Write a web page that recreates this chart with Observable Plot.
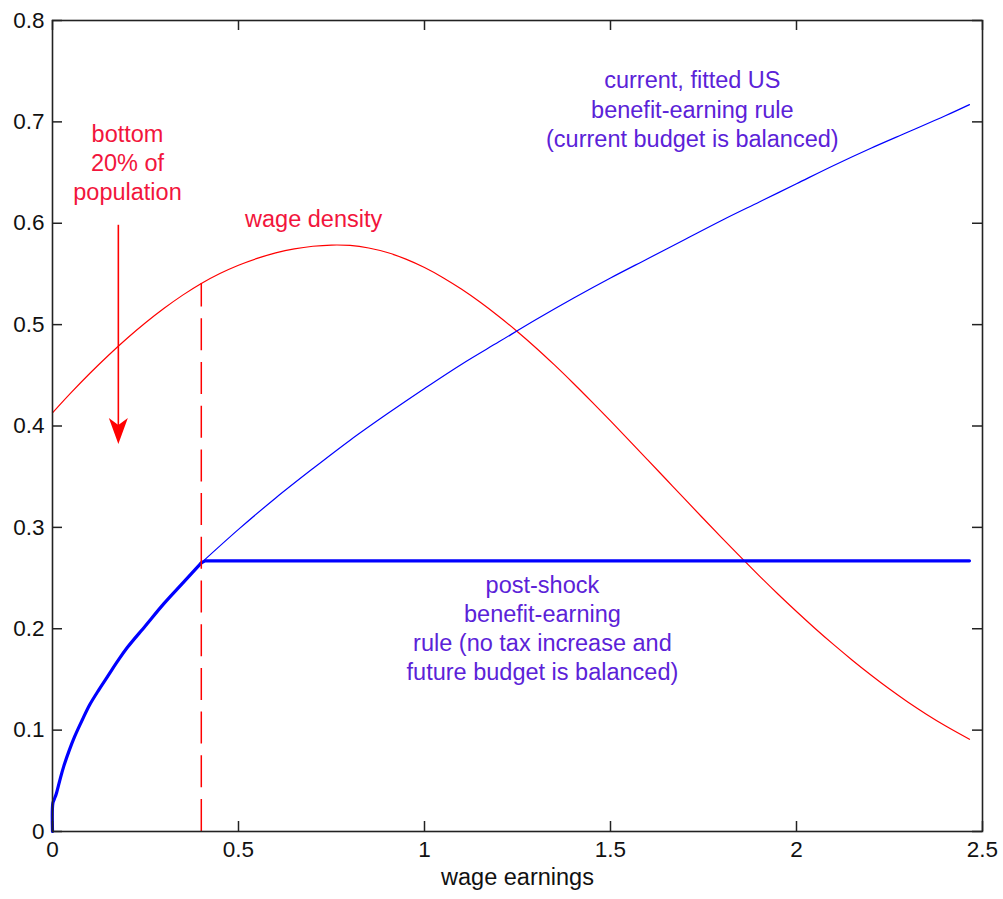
<!DOCTYPE html>
<html>
<head>
<meta charset="utf-8">
<script src="https://cdn.jsdelivr.net/npm/d3@7"></script>
<script src="https://cdn.jsdelivr.net/npm/@observablehq/plot@0.6"></script>
<style>
  html, body { margin: 0; padding: 0; background: #fff; overflow: hidden; }
</style>
</head>
<body>
<div id="chart"></div>
<script>
// ---- tick values ----
const xTicks = [0, 0.5, 1, 1.5, 2, 2.5];
const yTicks = [0, 0.1, 0.2, 0.3, 0.4, 0.5, 0.6, 0.7, 0.8];

// ---- wage density (red) ----
const densityX = [0, 0.05, 0.1, 0.15, 0.2, 0.25, 0.3, 0.35, 0.4, 0.45, 0.5, 0.55, 0.6, 0.65, 0.7, 0.75, 0.8, 0.85, 0.9, 0.95, 1.0,
  1.05, 1.1, 1.15, 1.2, 1.25, 1.3, 1.35, 1.4, 1.45, 1.5, 1.55, 1.6, 1.65, 1.7, 1.75, 1.8, 1.85, 1.9, 1.95, 2.0,
  2.05, 2.1, 2.15, 2.2, 2.25, 2.3, 2.35, 2.4, 2.465];
const densityY = [0.413, 0.4329, 0.4518, 0.4696, 0.4863, 0.5018, 0.5161, 0.5291, 0.5406, 0.5504, 0.5586, 0.5653, 0.5707, 0.5747, 0.5773, 0.5785, 0.5781, 0.5756, 0.5711, 0.5646, 0.5563,
  0.5463, 0.5348, 0.522, 0.508, 0.493, 0.477, 0.460, 0.4422, 0.4238, 0.405, 0.3859, 0.3666, 0.3472, 0.3278, 0.3085, 0.2894, 0.2706, 0.2522, 0.2343, 0.217,
  0.2003, 0.1843, 0.169, 0.1544, 0.1405, 0.1275, 0.1155, 0.1043, 0.091];

// ---- current, fitted US benefit-earning rule (thin blue) ----
const fittedX = [0.4, 0.5, 0.6, 0.7, 0.8, 0.9, 1.0, 1.1, 1.2, 1.3, 1.4, 1.5, 1.6, 1.7, 1.8, 1.9, 2.0, 2.1, 2.2, 2.3, 2.4, 2.465];
const fittedY = [0.265, 0.298, 0.329, 0.358, 0.386, 0.412, 0.437, 0.461, 0.483, 0.505, 0.526, 0.546, 0.565, 0.584, 0.603, 0.621, 0.639, 0.657, 0.674, 0.690, 0.706, 0.717];

// ---- post-shock benefit-earning rule (thick blue) ----
const shockX = [0, 0.001, 0.005, 0.01, 0.02, 0.03, 0.045, 0.06, 0.08, 0.1, 0.125, 0.15, 0.175, 0.2, 0.25, 0.3, 0.35, 0.4, 0.41, 2.465];
const shockY = [0, 0.028, 0.032, 0.037, 0.051, 0.064, 0.080, 0.094, 0.110, 0.125, 0.140, 0.154, 0.168, 0.181, 0.203, 0.225, 0.245, 0.265, 0.267, 0.267];

// ---- cut-off (bottom 20%) and arrow ----
const cutoffX = [0.4];
const cutoffTop = [0.5406];
const arrowX = [0.177];
const arrowFrom = [0.598];
const arrowTo = [0.395];

// ---- texts ----
const bottomLabel = ["bottom\n20% of\npopulation"];
const densityLabel = ["wage density"];
const fittedLabel = ["current, fitted US\nbenefit-earning rule\n(current budget is balanced)"];
const shockLabel = ["post-shock\nbenefit-earning\nrule (no tax increase and\nfuture budget is balanced)"];
const xLabel = ["wage earnings"];

const toRows = (xs, ys) => xs.map((x, i) => ({x, y: ys[i]}));
const density = toRows(densityX, densityY);
const fitted = toRows(fittedX, fittedY);
const shock = toRows(shockX, shockY);
const shockCurve = shock.filter(d => d.x <= 0.4);
const shockFlat = shock.filter(d => d.x >= 0.4);

const W = 1003, H = 899;
const mL = 52, mR = 21, mT = 20, mB = 68;
const plotW = W - mL - mR, plotH = H - mT - mB;
const tick = 10;

const RED = "#ff0000", BLUE = "#0000ff";
const RED_TEXT = "#f2153c", BLUE_TEXT = "#5b22d8";
const FS = 22.5;   // tick labels
const LFS = 23.5;  // annotations
const LH = 1.24;

// notched arrowhead symbol pointing down
const arrowHead = {
  draw(ctx) {
    ctx.moveTo(0, 13);
    ctx.lineTo(-9.5, -13);
    ctx.lineTo(0, -6);
    ctx.lineTo(9.5, -13);
    ctx.closePath();
  }
};

const chart = Plot.plot({
  width: W,
  height: H,
  marginLeft: mL,
  marginRight: mR,
  marginTop: mT,
  marginBottom: mB,
  x: {domain: [0, 2.5], label: null},
  y: {domain: [0, 0.8], label: null},
  style: {fontFamily: "'Liberation Sans', Arial, sans-serif", fontSize: FS + "px", color: "#111", background: "#fff"},
  marks: [
    Plot.line(density, {x: "x", y: "y", stroke: RED, strokeWidth: 1.2, curve: "catmull-rom"}),
    Plot.line(fitted, {x: "x", y: "y", stroke: BLUE, strokeWidth: 1.2, curve: "catmull-rom"}),
    Plot.line(shockCurve, {x: "x", y: "y", stroke: BLUE, strokeWidth: 3.2, curve: "catmull-rom"}),
    Plot.line(shockFlat, {x: "x", y: "y", stroke: BLUE, strokeWidth: 3.2, curve: "linear"}),
    Plot.ruleX(cutoffX.map((x, i) => ({x, top: cutoffTop[i]})), {x: "x", y1: 0, y2: "top", stroke: RED, strokeWidth: 1.5, strokeDasharray: "32,11.7"}),
    Plot.ruleX(arrowX.map((x, i) => ({x, a: arrowFrom[i], b: arrowTo[i]})), {x: "x", y1: "a", y2: "b", stroke: RED, strokeWidth: 1.6}),
    Plot.dot(arrowX.map((x, i) => ({x, y: arrowTo[i]})), {x: "x", y: "y", symbol: arrowHead, fill: RED, stroke: "none", r: 5}),

    Plot.text(bottomLabel, {x: 0.2016, y: 0.661, text: d => d, fill: RED_TEXT, fontSize: LFS, lineHeight: LH}),
    Plot.text(densityLabel, {x: 0.702, y: 0.604, text: d => d, fill: RED_TEXT, fontSize: LFS}),
    Plot.text(fittedLabel, {x: 1.72, y: 0.7135, text: d => d, fill: BLUE_TEXT, fontSize: LFS, lineHeight: LH}),
    Plot.text(shockLabel, {x: 1.317, y: 0.2015, text: d => d, fill: BLUE_TEXT, fontSize: LFS, lineHeight: LH}),
    Plot.text(xLabel, {frameAnchor: "bottom", dy: 53, text: d => d, fill: "#111", fontSize: LFS}),

    Plot.frame({stroke: "#222", strokeWidth: 1.6}),
    Plot.tickX(xTicks, {x: d => d, insetTop: plotH - tick, stroke: "#222", strokeWidth: 1.5}),
    Plot.tickX(xTicks, {x: d => d, insetBottom: plotH - tick, stroke: "#222", strokeWidth: 1.5}),
    Plot.tickY(yTicks, {y: d => d, insetRight: plotW - tick, stroke: "#222", strokeWidth: 1.5}),
    Plot.tickY(yTicks, {y: d => d, insetLeft: plotW - tick, stroke: "#222", strokeWidth: 1.5}),
    Plot.axisX(xTicks, {tickSize: 0, tickPadding: 10, label: null, fontSize: FS, tickFormat: d => String(d)}),
    Plot.axisY(yTicks, {tickSize: 0, tickPadding: 8, label: null, fontSize: FS, tickFormat: d => String(d)})
  ]
});
document.getElementById("chart").appendChild(chart);
</script>
</body>
</html>
